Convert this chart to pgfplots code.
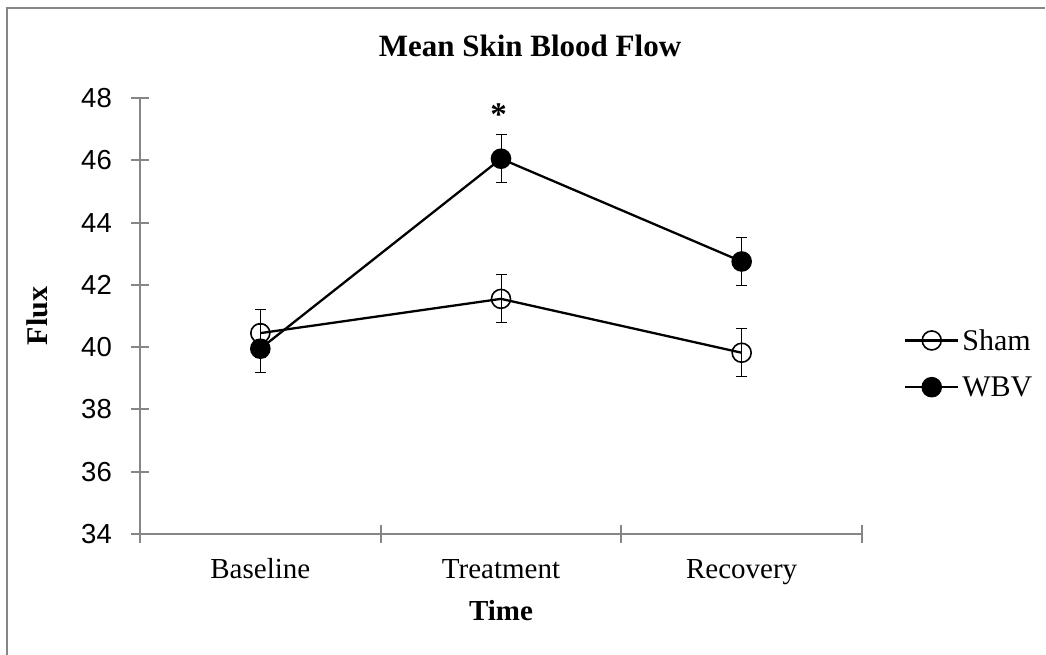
\documentclass[border=0pt]{standalone}
\usepackage{fontspec}
\setmainfont{Liberation Serif}
\newfontfamily\arial{Liberation Sans}
\usepackage{pgfplots}
\pgfplotsset{compat=1.18}
\definecolor{axgray}{RGB}{134,134,134}
\begin{document}
\begin{tikzpicture}[x=1pt,y=1pt]
\useasboundingbox (0,0) rectangle (1046,655);
\draw[axgray, line width=2pt] (7,0) -- (7,647) -- (1044.5,647);
\begin{axis}[
  at={(140pt,121pt)}, anchor=south west,
  scale only axis, width=722pt, height=436pt,
  xmin=0.5, xmax=3.5, ymin=34, ymax=48,
  ytick={34,36,...,48},
  xtick={0.5,1.5,2.5,3.5}, xticklabels={},
  extra x ticks={1,2,3},
  extra x tick labels={Baseline,Treatment,Recovery},
  extra x tick style={major tick length=0pt},
  axis lines*=left,
  axis line style={axgray, line width=2pt},
  tick align=center,
  major tick length=18pt,
  tick style={axgray, line width=2pt},
  /pgf/number format/assume math mode=true,
  yticklabel style={font=\arial\fontsize{27.5}{32}\selectfont, anchor=east, inner sep=0pt, xshift=-19pt},
  xticklabel style={font=\fontsize{29}{34}\selectfont, anchor=base, inner sep=0pt, yshift=-45pt},
  legend style={draw=none, fill=none, font=\fontsize{30}{36}\selectfont,
    at={(1.058,0.391)}, anchor=west, inner sep=0pt, row sep=19pt,
    nodes={inner sep=3pt}},
  legend cell align=left,
  legend image code/.code={\draw[mark repeat=2,mark phase=2,#1] plot coordinates {(0pt,0pt) (26.5pt,0pt) (53pt,0pt)};},
  clip=false,
]
\addplot[black, line width=2.3pt, mark=o, mark size=9.5pt,
  mark options={line width=1.6pt, solid},
  error bars/.cd, y dir=both, y explicit,
  error bar style={line width=1pt, black},
  error mark options={rotate=90, mark size=5.5pt, line width=1pt, black}]
  coordinates {(1,40.45) +- (0,0.77) (2,41.55) +- (0,0.77) (3,39.82) +- (0,0.77)};
\addlegendentry{Sham}
\addplot[black, line width=2.3pt, mark=*, mark size=9.5pt,
  mark options={line width=1.6pt, solid, fill=black},
  error bars/.cd, y dir=both, y explicit,
  error bar style={line width=1pt, black},
  error mark options={rotate=90, mark size=5.5pt, line width=1pt, black}]
  coordinates {(1,39.95) +- (0,0.77) (2,46.05) +- (0,0.77) (3,42.75) +- (0,0.77)};
\addlegendentry{WBV}
\node[anchor=base, font=\bfseries\fontsize{33}{38}\selectfont] at (axis cs:1.99,47.12) {*};
\end{axis}
\node[anchor=base, font=\bfseries\fontsize{31}{36}\selectfont] at (530,598) {Mean Skin Blood Flow};
\node[anchor=base, font=\bfseries\fontsize{29}{34}\selectfont] at (501,34) {Time};
\node[rotate=90, font=\bfseries\fontsize{30}{34}\selectfont] at (37,339) {Flux};
\end{tikzpicture}
\end{document}
